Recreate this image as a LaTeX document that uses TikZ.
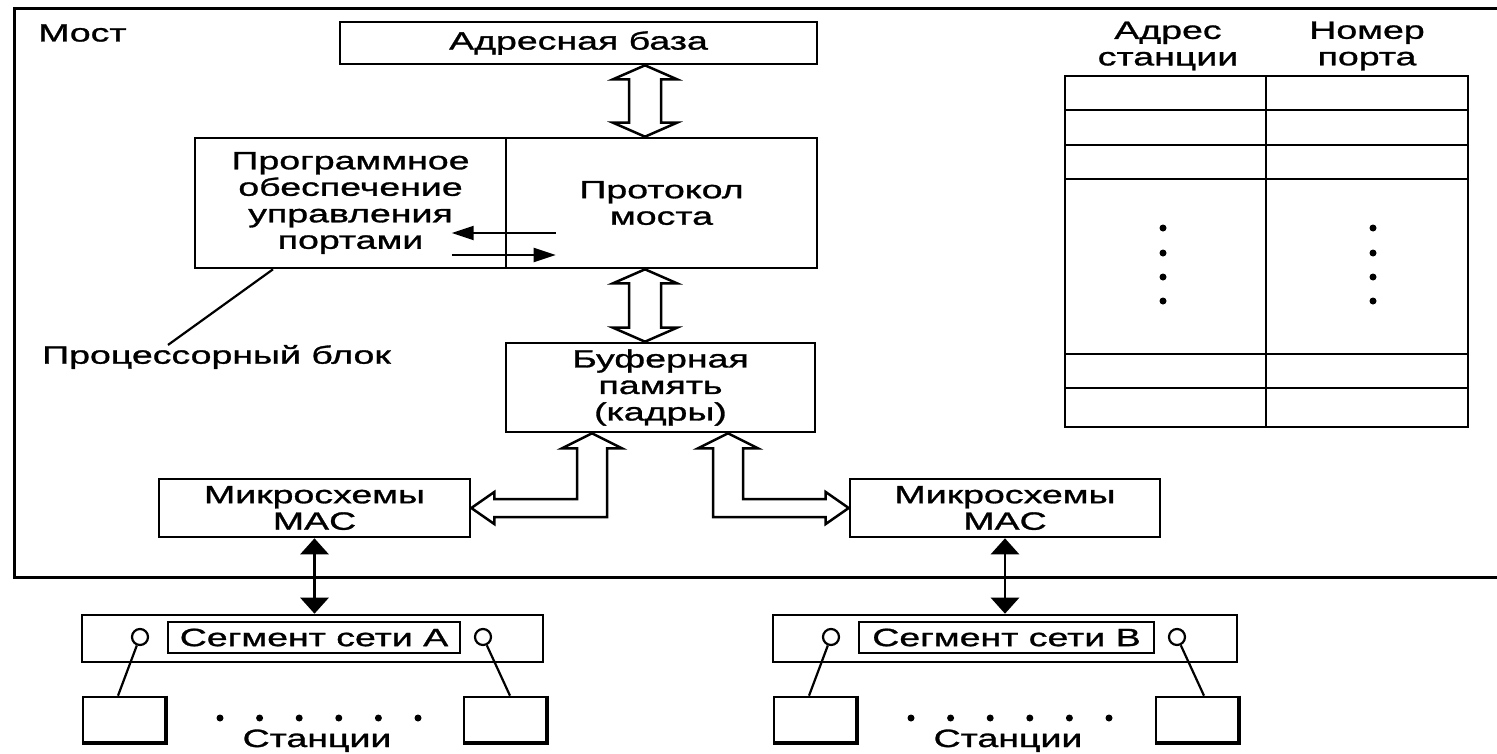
\documentclass[tikz,border=0pt]{standalone}
\usepackage{fontspec}
\setmainfont{Liberation Sans}[FakeStretch=1.5, FakeBold=1.2]
\usetikzlibrary{calc,arrows.meta}

\newcommand\txt{\fontsize{25}{26.5}\selectfont}

% vertical hollow two-way bus between two named points (upper, lower)
\newcommand\vbus[2]{%
  \draw[bus] (#1) -- ++(32,14) -- ++(-16,0) -- ($(#2)+(16,-14)$) -- ++(16,0)
    -- (#2) -- ++(-32,-14) -- ++(16,0) -- ($(#1)+(-16,14)$) -- ++(-16,0) -- cycle;}

% station box with a heavier right and bottom edge
\newcommand\station[2]{%
  \node[station] (#1) at (#2) {};
  \draw[line width=4pt] (#1.north east) -- (#1.south east) -- (#1.south west);}

\tikzset{
  box/.style={draw, line width=2.6pt, inner sep=0pt, align=center, font=\txt},
  lbl/.style={inner sep=0pt, align=center, font=\txt},
  bus/.style={draw, line width=2.5pt, fill=white, line join=miter},
  darr/.style={line width=2.8pt, {Triangle[width=28pt,length=16pt]}-{Triangle[width=28pt,length=16pt]}},
  sarr/.style={line width=2.2pt, -{Triangle[width=14pt,length=22pt]}},
  port/.style={draw, circle, line width=2.2pt, minimum size=16pt, inner sep=0pt},
  station/.style={draw, line width=2.6pt, minimum width=82pt, minimum height=45pt, inner sep=0pt},
  stub/.style={line width=2.2pt},
  dotmark/.style={circle, fill, inner sep=0pt, minimum size=7pt},
  frame/.style={line width=3pt},
  grid/.style={line width=2.6pt},
}

\begin{document}
\begin{tikzpicture}[x=1pt, y=-1pt]
\useasboundingbox (0,0) rectangle (1497,753);
\fill[white] (0,0) rectangle (1497,753);

% bridge enclosure
\draw[frame] (1497,8) -- (14,8) -- (14,577) -- (1497,577);
\node[lbl, anchor=west] (most) at (38,33) {Мост};

% processor block
\node[box, minimum width=477pt, minimum height=42pt] (adr) at (578.5,43) {Адресная база};
\node[box, minimum width=311pt, minimum height=130pt] (sw) at (350.5,203)
  {Программное\\обеспечение\\управления\\портами};
\node[box, minimum width=311pt, minimum height=130pt] (proto) at (661.5,203)
  {Протокол\\моста};
\node[box, minimum width=309pt, minimum height=89pt] (buf) at (660.5,387.5)
  {Буферная\\память\\(кадры)};

\draw[sarr] ($(proto.west)+(51,30)$) -- ($(proto.west)+(-53,30)$);
\draw[sarr] ($(proto.west)+(-53,52)$) -- ($(proto.west)+(51,52)$);

\node[lbl, anchor=west] (pb) at (42,357) {Процессорный блок};
\coordinate (pbtip) at ($(pb.north west)+(126,0)$);
\draw[stub] (sw.south -| 273,0) -- (pbtip);

% buses inside the processor block
\coordinate (b1t) at (645,0 |- adr.south);
\coordinate (b1b) at (645,0 |- proto.north);
\vbus{b1t}{b1b}
\coordinate (b2t) at (645,0 |- proto.south);
\coordinate (b2b) at (645,0 |- buf.north);
\vbus{b2t}{b2b}

% MAC chips
\node[box, minimum width=311pt, minimum height=58pt] (macA) at (314.5,508) {Микросхемы\\MAC};
\node[box, minimum width=310pt, minimum height=58pt] (macB) at (1005,508) {Микросхемы\\MAC};

% bent buses from the buffer to the MAC chips
\coordinate (lt) at (592,0 |- buf.south);
\coordinate (lh) at (macA.east);
\draw[bus] (lt) -- ++(30,15) -- ++(-15,0) -- ($(lt |- lh)+(15,9)$) -- ($(lh)+(23,9)$)
  -- ++(0,7) -- (lh) -- ($(lh)+(23,-16)$) -- ++(0,7) -- ($(lt |- lh)+(-15,-9)$)
  -- ($(lt)+(-15,15)$) -- ++(-15,0) -- cycle;
\coordinate (rt) at (728,0 |- buf.south);
\coordinate (rh) at (macB.west);
\draw[bus] (rt) -- ++(-30,15) -- ++(15,0) -- ($(rt |- rh)+(-15,9)$) -- ($(rh)+(-23,9)$)
  -- ++(0,7) -- (rh) -- ($(rh)+(-23,-16)$) -- ++(0,7) -- ($(rt |- rh)+(15,-9)$)
  -- ($(rt)+(15,15)$) -- ++(15,0) -- cycle;

% address table
\node[lbl] (h1) at (1168,46) {Адрес\\станции};
\node[lbl] (h2) at (1367,46) {Номер\\порта};
\draw[grid] (1065,76) rectangle (1468,427);
\draw[grid] (1266,76) -- (1266,427);
\foreach \yy in {110,145,179,354,388} \draw[grid] (1065,\yy) -- (1468,\yy);
\foreach \yy in {228,253,277,301} {
  \node[dotmark] at (1163,\yy) {};
  \node[dotmark] at (1373,\yy) {};
}

% network segments
\node[box, minimum width=461pt, minimum height=47pt] (segA) at (312.5,638.5) {};
\node[box, line width=2.2pt, minimum width=292pt, minimum height=31pt] (labA) at (314,637.5) {Сегмент сети А};
\node[box, minimum width=464pt, minimum height=47pt] (segB) at (1005,638.5) {};
\node[box, line width=2.2pt, minimum width=295pt, minimum height=31pt] (labB) at (1006.5,637.5) {Сегмент сети В};

\draw[darr] (macA.south) -- (macA.south |- segA.north);
\draw[darr] (macB.south) -- (macB.south |- segB.north);

% stations
\node[port] (pA1) at (140,637) {};
\node[port] (pA2) at (483,637) {};
\node[port] (pB1) at (831,637) {};
\node[port] (pB2) at (1177,637) {};
\station{sA1}{124,719.5}
\station{sA2}{505,719.5}
\station{sB1}{815,719.5}
\station{sB2}{1197,719.5}
\draw[stub] (pA1) -- ($(sA1.north)+(-6,0)$);
\draw[stub] (pA2) -- ($(sA2.north)+(5,0)$);
\draw[stub] (pB1) -- ($(sB1.north)+(-6,0)$);
\draw[stub] (pB2) -- ($(sB2.north)+(7,0)$);
\foreach \i in {0,...,5} {
  \node[dotmark] at (220+39.6*\i,718) {};
  \node[dotmark] at (911+39.6*\i,718) {};
}
\node[lbl, anchor=base] (stA) at (317,747) {Станции};
\node[lbl, anchor=base] (stB) at (1008,747) {Станции};
\end{tikzpicture}
\end{document}
